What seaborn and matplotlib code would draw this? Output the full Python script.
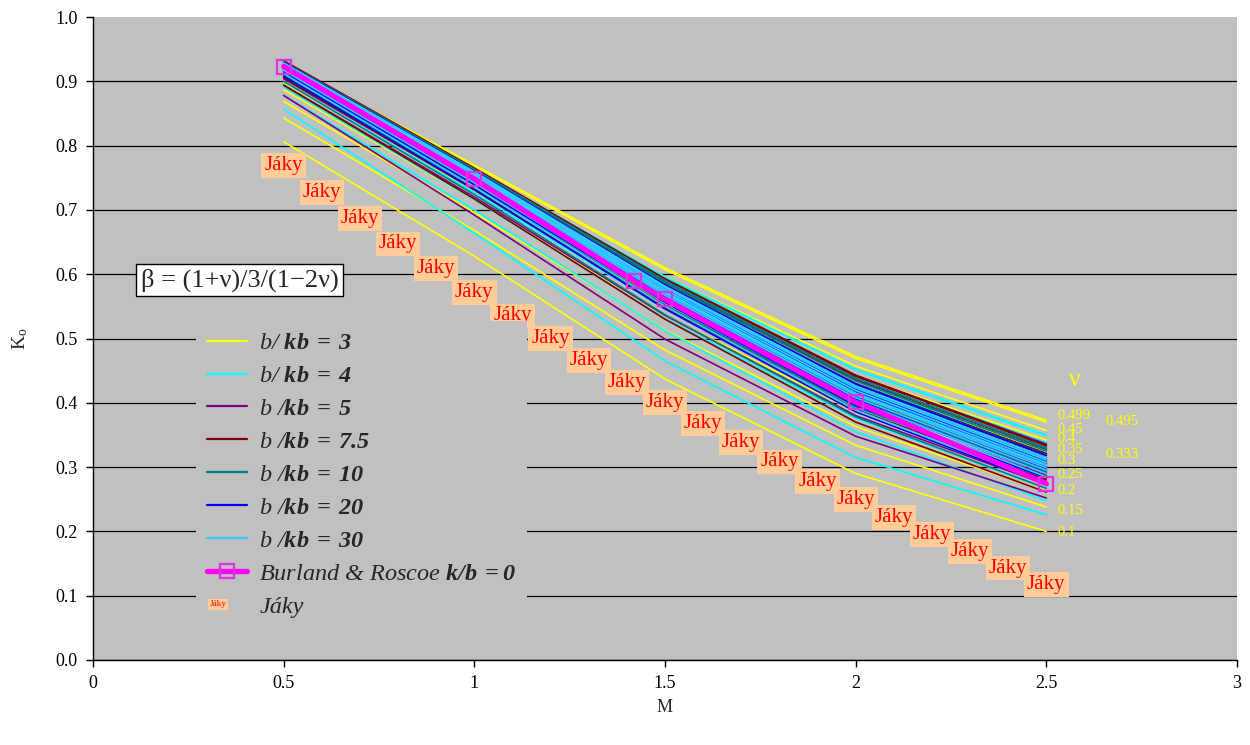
import matplotlib
matplotlib.use("Agg")
import matplotlib.pyplot as plt
from matplotlib.lines import Line2D
from matplotlib.legend_handler import HandlerBase
from matplotlib.text import Text
import numpy as np
import pandas as pd
import seaborn as sns

sns.set_theme(style="white")
plt.rcParams["font.family"] = ["Liberation Serif", "DejaVu Serif"]
plt.rcParams["mathtext.fontset"] = "custom"
plt.rcParams["mathtext.rm"] = "Liberation Serif"
plt.rcParams["mathtext.it"] = "Liberation Serif:italic"
plt.rcParams["mathtext.bf"] = "Liberation Serif:italic:bold"

# ---- data -------------------------------------------------------------
m_grid = [0.5, 1.0, 1.5, 2.0, 2.5]
nu_values = [0.1, 0.15, 0.2, 0.25, 0.3, 0.333, 0.35, 0.4, 0.45, 0.495, 0.499]
nu_labels = ["0.1", "0.15", "0.2", "0.25", "0.3", "0.333", "0.35", "0.4", "0.45", "0.495", "0.499"]
ratio_labels = ["3", "4", "5", "7.5", "10", "20", "30"]

# K0 at m_grid, one row per Poisson ratio (nu_values order)
k0_ratio_3 = [
    [0.806, 0.628, 0.437, 0.290, 0.200],
    [0.843, 0.668, 0.482, 0.334, 0.238],
    [0.869, 0.696, 0.513, 0.363, 0.262],
    [0.887, 0.716, 0.536, 0.386, 0.285],
    [0.898, 0.730, 0.555, 0.407, 0.306],
    [0.904, 0.737, 0.565, 0.419, 0.318],
    [0.907, 0.742, 0.571, 0.426, 0.325],
    [0.915, 0.752, 0.585, 0.442, 0.342],
    [0.919, 0.759, 0.596, 0.457, 0.357],
    [0.926, 0.768, 0.607, 0.469, 0.370],
    [0.928, 0.770, 0.610, 0.472, 0.373],
]
k0_ratio_4 = [
    [0.857, 0.664, 0.465, 0.315, 0.226],
    [0.878, 0.700, 0.512, 0.355, 0.248],
    [0.891, 0.716, 0.531, 0.376, 0.267],
    [0.900, 0.727, 0.546, 0.392, 0.285],
    [0.906, 0.736, 0.558, 0.406, 0.300],
    [0.908, 0.740, 0.564, 0.414, 0.309],
    [0.911, 0.743, 0.568, 0.417, 0.312],
    [0.916, 0.750, 0.578, 0.430, 0.326],
    [0.919, 0.756, 0.587, 0.441, 0.338],
    [0.924, 0.761, 0.595, 0.451, 0.349],
    [0.925, 0.762, 0.596, 0.452, 0.350],
]
k0_ratio_5 = [
    [0.878, 0.692, 0.499, 0.348, 0.252],
    [0.894, 0.720, 0.536, 0.380, 0.273],
    [0.904, 0.731, 0.549, 0.395, 0.287],
    [0.910, 0.739, 0.559, 0.406, 0.297],
    [0.915, 0.744, 0.567, 0.414, 0.306],
    [0.917, 0.747, 0.571, 0.419, 0.311],
    [0.918, 0.749, 0.574, 0.422, 0.314],
    [0.921, 0.753, 0.579, 0.428, 0.321],
    [0.923, 0.757, 0.585, 0.436, 0.330],
    [0.926, 0.760, 0.589, 0.441, 0.335],
    [0.926, 0.760, 0.590, 0.442, 0.336],
]
k0_ratio_7_5 = [
    [0.894, 0.717, 0.530, 0.370, 0.261],
    [0.906, 0.732, 0.548, 0.390, 0.280],
    [0.912, 0.739, 0.558, 0.402, 0.292],
    [0.917, 0.746, 0.566, 0.410, 0.300],
    [0.921, 0.750, 0.572, 0.417, 0.307],
    [0.922, 0.752, 0.575, 0.421, 0.312],
    [0.923, 0.754, 0.577, 0.424, 0.314],
    [0.926, 0.757, 0.582, 0.430, 0.321],
    [0.928, 0.761, 0.588, 0.437, 0.328],
    [0.930, 0.764, 0.592, 0.442, 0.333],
    [0.932, 0.765, 0.593, 0.443, 0.334],
]
k0_ratio_10 = [
    [0.900, 0.724, 0.537, 0.378, 0.267],
    [0.910, 0.736, 0.552, 0.394, 0.283],
    [0.915, 0.742, 0.561, 0.404, 0.293],
    [0.918, 0.747, 0.567, 0.411, 0.300],
    [0.922, 0.752, 0.573, 0.417, 0.307],
    [0.923, 0.753, 0.575, 0.421, 0.311],
    [0.924, 0.754, 0.577, 0.424, 0.313],
    [0.927, 0.758, 0.582, 0.429, 0.319],
    [0.928, 0.760, 0.586, 0.434, 0.325],
    [0.930, 0.763, 0.589, 0.438, 0.329],
    [0.930, 0.763, 0.590, 0.438, 0.330],
]
k0_ratio_20 = [
    [0.908, 0.732, 0.546, 0.386, 0.273],
    [0.915, 0.740, 0.556, 0.396, 0.283],
    [0.918, 0.744, 0.562, 0.403, 0.290],
    [0.921, 0.747, 0.566, 0.407, 0.295],
    [0.923, 0.751, 0.570, 0.413, 0.300],
    [0.924, 0.753, 0.573, 0.416, 0.304],
    [0.925, 0.753, 0.574, 0.417, 0.306],
    [0.927, 0.756, 0.577, 0.422, 0.310],
    [0.928, 0.758, 0.581, 0.426, 0.314],
    [0.929, 0.760, 0.583, 0.429, 0.318],
    [0.929, 0.760, 0.583, 0.429, 0.318],
]
k0_ratio_30 = [
    [0.912, 0.736, 0.550, 0.389, 0.276],
    [0.917, 0.742, 0.558, 0.398, 0.285],
    [0.919, 0.746, 0.562, 0.403, 0.290],
    [0.922, 0.749, 0.567, 0.408, 0.295],
    [0.924, 0.752, 0.570, 0.412, 0.299],
    [0.924, 0.753, 0.572, 0.414, 0.302],
    [0.925, 0.754, 0.573, 0.415, 0.304],
    [0.927, 0.756, 0.576, 0.419, 0.307],
    [0.928, 0.757, 0.579, 0.423, 0.311],
    [0.928, 0.759, 0.581, 0.426, 0.314],
    [0.928, 0.759, 0.581, 0.426, 0.314],
]

# Burland & Roscoe (k/b = 0)
br_m = [0.5, 1.0, 1.42, 1.5, 2.0, 2.5]
br_k0 = [0.923, 0.748, 0.589, 0.561, 0.401, 0.274]

# Jaky
jaky_m = [0.5, 0.6, 0.7, 0.8, 0.9, 1.0, 1.1, 1.2, 1.3, 1.4, 1.5,
          1.6, 1.7, 1.8, 1.9, 2.0, 2.1, 2.2, 2.3, 2.4, 2.5]
jaky_k0 = [0.769, 0.727, 0.687, 0.647, 0.609, 0.571, 0.535, 0.500, 0.466, 0.432, 0.400,
           0.368, 0.338, 0.308, 0.278, 0.250, 0.222, 0.195, 0.169, 0.143, 0.118]

x_ticks = [0, 0.5, 1, 1.5, 2, 2.5, 3]
x_tick_labels = ["0", "0.5", "1", "1.5", "2", "2.5", "3"]
y_ticks = [0.0, 0.1, 0.2, 0.3, 0.4, 0.5, 0.6, 0.7, 0.8, 0.9, 1.0]
y_tick_labels = ["0.0", "0.1", "0.2", "0.3", "0.4", "0.5", "0.6", "0.7", "0.8", "0.9", "1.0"]

# ---- styling ----------------------------------------------------------
family_colors = ["#FFFF00", "#00FFFF", "#800080", "#800000", "#008080", "#0000FF", "#33CCFF"]
family_tables = [k0_ratio_3, k0_ratio_4, k0_ratio_5, k0_ratio_7_5,
                 k0_ratio_10, k0_ratio_20, k0_ratio_30]

records = []
for ratio, table in zip(ratio_labels, family_tables):
    for nu, row in zip(nu_values, table):
        for m, k in zip(m_grid, row):
            records.append((ratio, nu, m, k))
df = pd.DataFrame(records, columns=["ratio", "nu", "M", "K0"])

fig = plt.figure(figsize=(12.5, 7.45), dpi=100)
fig.patch.set_facecolor("white")
ax = fig.add_axes([93 / 1250, 1 - 660 / 745, 1144 / 1250, 643 / 745])
ax.set_facecolor("#C0C0C0")

sns.lineplot(data=df, x="M", y="K0", hue="ratio", hue_order=ratio_labels,
             units="nu", estimator=None, sort=False,
             palette=dict(zip(ratio_labels, family_colors)),
             lw=1.2, legend=False, ax=ax)

sns.lineplot(x=br_m, y=br_k0, color="#FF00FF", lw=3.8, marker="s", ms=10,
             mfc="none", mec="#E030E0", mew=1.6, ax=ax, sort=False)

# Jaky labels at their points
for m, k in zip(jaky_m, jaky_k0):
    ax.text(m, k, "Jáky", color="#FF0000", fontsize=15, ha="center", va="center",
            zorder=5,
            bbox=dict(boxstyle="square,pad=0.14", fc="#FFCC99", ec="none"))

# Poisson ratio labels next to the b/kb = 3 line ends
yellow_ends = [row[-1] for row in k0_ratio_3]
nudge = [-0.002, -0.005, 0.001, 0.003, 0.004, 0.002, 0.003, 0.002, 0.001, 0.001, 0.007]
for lab, end, dy in zip(nu_labels, yellow_ends, nudge):
    x_lab = 2.655 if lab in ("0.333", "0.495") else 2.53
    ax.text(x_lab, end + dy, lab, color="#FFFF00", fontsize=10.5, ha="left", va="center")
ax.text(2.575, 0.435, "ν", color="#FFFF00", fontsize=18, ha="center", va="center")

ax.text(0.125, 0.591, "β = (1+ν)/3/(1−2ν)", fontsize=19, ha="left", va="center",
        bbox=dict(boxstyle="square,pad=0.17", fc="white", ec="black", lw=1.0))

# axes
ax.set_xlim(0, 3)
ax.set_ylim(0, 1)
ax.set_xticks(x_ticks)
ax.set_xticklabels(x_tick_labels)
ax.set_yticks(y_ticks)
ax.set_yticklabels(y_tick_labels)
ax.tick_params(axis="both", direction="out", length=5, width=1, colors="black",
               labelsize=13, left=True, bottom=True, pad=6)
ax.yaxis.grid(True, color="black", lw=0.9)
ax.xaxis.grid(False)
ax.get_ygridlines()[-1].set_visible(False)
ax.set_axisbelow(True)
for side in ("top", "right"):
    ax.spines[side].set_visible(False)
for side in ("left", "bottom"):
    ax.spines[side].set_color("black")
    ax.spines[side].set_linewidth(1.0)

ax.set_xlabel("M", fontsize=13, labelpad=5)
ax.set_ylabel("K$_\\mathrm{o}$", fontsize=14, labelpad=18)


# legend
class JakyKey:
    pass


class JakyHandler(HandlerBase):
    def create_artists(self, legend, orig_handle, xdescent, ydescent, width,
                       height, fontsize, trans):
        t = Text(x=-xdescent + width * 0.28, y=-ydescent + height / 2, text="Jáky",
                 color="#FF0000", fontsize=fontsize * 0.38, ha="center", va="center",
                 transform=trans,
                 bbox=dict(boxstyle="square,pad=0.15", fc="#FFCC99", ec="none"))
        return [t]


legend_labels = [
    "b/ $\\mathbf{kb\\;=\\;3}$",
    "b/ $\\mathbf{kb\\;=\\;4}$",
    "b /$\\mathbf{kb\\;=\\;5}$",
    "b /$\\mathbf{kb\\;=\\;7.5}$",
    "b /$\\mathbf{kb\\;=\\;10}$",
    "b /$\\mathbf{kb\\;=\\;20}$",
    "b /$\\mathbf{kb\\;=\\;30}$",
    "Burland & Roscoe $\\mathbf{k/b\\;=0}$",
    "Jáky",
]
handles = [Line2D([], [], color=c, lw=1.6) for c in family_colors]
handles.append(Line2D([], [], color="#FF00FF", lw=3.8, marker="s", ms=10,
                      mfc="none", mec="#E030E0", mew=1.6))
handles.append(JakyKey())
leg = ax.legend(handles, legend_labels, handler_map={JakyKey: JakyHandler()},
                loc="upper left", bbox_to_anchor=(0.090, 0.527), frameon=True,
                facecolor="#C0C0C0", edgecolor="none", framealpha=1.0, fancybox=False,
                prop={"style": "italic", "size": 17.5}, handlelength=1.65,
                handletextpad=0.5, labelspacing=0.45, borderaxespad=0, borderpad=0.45)

fig.savefig("out.png", dpi=100, facecolor="white")
